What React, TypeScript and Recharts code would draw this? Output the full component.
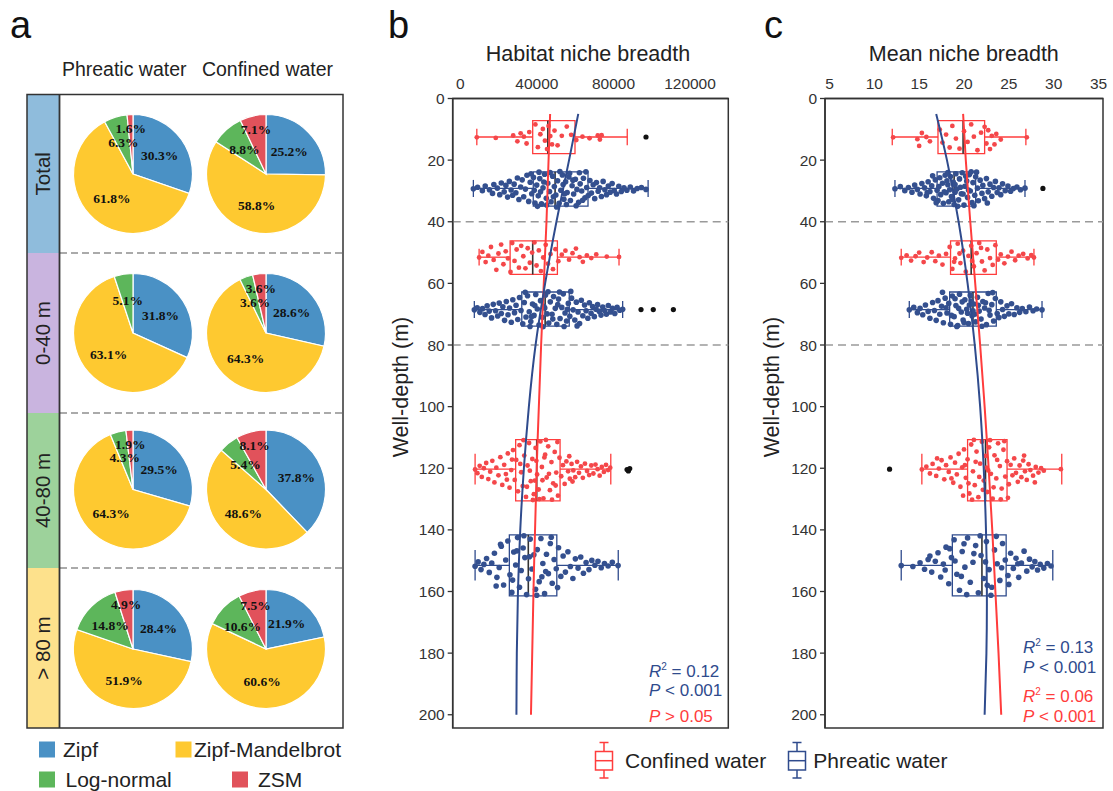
import React from 'react';
import {
  PieChart, Pie, Cell, ScatterChart, Scatter, XAxis, YAxis,
  ReferenceArea, ReferenceLine,
} from 'recharts';

const SANS = 'Arial, "Liberation Sans", Helvetica, sans-serif';
const SERIF = '"Times New Roman", "Liberation Serif", serif';

// ---------- panel a: abundance model shares (%) ----------
const models = ['Zipf', 'Zipf-Mandelbrot', 'Log-normal', 'ZSM'];
const modelColors = ['#4a91c5', '#fec930', '#5db65b', '#e1525b'];
const depthRows = ['Total', '0-40 m', '40-80 m', '> 80 m'];
const rowColors = ['#8fbcdc', '#c9b4df', '#9dd29b', '#fde18c'];
const waterTypes = ['Phreatic water', 'Confined water'];
const phreaticShares = [
  [30.3, 61.8, 6.3, 1.6],
  [31.8, 63.1, 5.1, 0],
  [29.5, 64.3, 4.3, 1.9],
  [28.4, 51.9, 14.8, 4.9],
];
const confinedShares = [
  [25.2, 58.8, 8.8, 7.1],
  [28.6, 64.3, 3.6, 3.6],
  [37.8, 48.6, 5.4, 8.1],
  [21.9, 60.6, 10.6, 7.5],
];

// ---------- panels b, c ----------
const RED = '#ff3c3c';
const BLUE = '#2f4b8d';
const RED_DOT = '#f4474a';
const BLUE_DOT = '#34508f';

const depthTicks = [0, 20, 40, 60, 80, 100, 120, 140, 160, 180, 200];
const depthMinorTicks = [10, 30, 50, 70, 90, 110, 130, 150, 170, 190];
const depthMax = 204.3;
const layerBreaks = [40, 80];

// box groups from top to bottom: depth extent of each box
const groupWater = ['Confined', 'Phreatic', 'Confined', 'Phreatic', 'Confined', 'Phreatic'];
const groupTop = [7.2, 23.8, 46.2, 62.8, 110.7, 141.6];
const groupCenter = [12.5, 29.2, 51.5, 68.5, 120.3, 151.5];
const groupBottom = [17.9, 34.9, 57.1, 73.9, 130.6, 161.4];

// habitat niche breadth: [whisker low, q1, median, q3, whisker high]
const habitatTicks = [0, 40000, 80000, 120000];
const habitatMinorTicks = [0, 20000, 40000, 60000, 80000, 100000, 120000];
const habitatBoxes = [
  [8600, 37800, 45700, 59900, 87200],
  [6800, 38100, 49500, 66700, 98100],
  [9800, 26000, 37800, 50700, 82900],
  [7300, 32100, 44300, 56900, 84800],
  [7700, 28900, 39900, 52100, 78600],
  [7700, 25600, 35500, 50400, 82500],
];
const habitatOutliers = [[97000, 12.5], [94400, 68.5], [100800, 68.5], [111300, 68.5], [87100, 120.4], [87800, 120.9], [88500, 120.1]];
const habitatPhreaticFit = [[61600, 5], [56800, 20], [50200, 40], [44300, 60], [39300, 80], [35800, 100], [33200, 120], [31300, 140], [30100, 160], [29500, 180], [29300, 200]];
const habitatConfinedFit = [[46900, 5], [45000, 40], [42200, 80], [39900, 120], [38200, 160], [36900, 200]];

const habitat1 = [[8600,12.6],[18500,12.8],[27600,12.0],[29800,13.9],[31500,11.3],[33200,12.4],[34600,14.6],[36000,10.9],[39200,8.4],[40500,15.8],[41800,11.6],[43100,9.9],[44200,13.7],[45300,16.4],[46100,8.9],[47000,12.2],[47900,14.9],[49200,10.4],[50800,15.2],[53000,12.1],[55600,9.1],[57900,11.8],[60600,13.5],[63800,12.4],[67500,12.9],[71800,12.0],[72900,13.3],[73800,11.9]];
const habitat2 = [[6800,29.3],[9000,28.8],[11500,29.9],[13000,28.4],[15200,29.6],[16800,30.8],[17500,27.9],[19300,29.1],[20600,31.2],[21400,27.4],[22900,30.3],[23800,28.2],[24700,32.0],[25600,26.9],[26500,29.7],[27300,31.4],[28100,27.8],[29000,30.6],[29800,25.8],[30600,32.8],[31500,28.7],[32300,26.4],[33100,31.9],[34000,29.4],[34800,24.9],[35700,33.4],[36500,27.2],[37300,30.9],[38200,25.6],[39000,33.9],[39900,28.1],[40700,31.6],[41500,26.0],[42400,34.2],[43200,29.0],[44000,24.6],[44900,32.4],[45700,27.5],[46600,30.2],[47400,33.5],[48200,25.2],[49100,28.6],[49900,31.3],[50800,26.7],[51600,34.0],[52500,29.8],[53300,24.8],[54100,32.7],[55000,27.0],[55800,30.5],[56700,25.5],[57500,33.1],[58400,28.3],[59200,31.0],[60100,26.2],[60900,29.5],[61800,33.7],[62600,27.7],[63400,30.0],[64300,25.9],[65100,32.2],[66000,28.9],[66800,31.5],[67700,26.6],[68500,30.7],[69400,28.0],[70200,32.5],[71100,27.3],[72000,30.1],[72800,29.0],[73700,31.8],[74600,26.9],[75500,29.6],[76400,31.2],[77300,28.4],[78300,30.4],[79300,27.6],[80400,29.9],[81600,31.0],[82800,28.5],[84100,30.2],[85500,29.0],[87000,29.8],[88800,28.7],[90500,30.0],[92400,29.2],[94600,28.9],[97000,29.5],[36900,24.4],[38600,29.8],[40300,35.0],[41100,23.9],[43600,27.1],[45100,34.6],[46900,24.0],[48600,31.9],[50300,35.2],[52000,23.7],[53700,27.9],[55400,34.4],[57100,24.3],[58800,26.5],[60500,34.8],[62200,24.1],[63900,33.0],[65600,23.8],[41900,30.3],[54500,30.9]];
const habitat3 = [[9800,51.6],[11500,49.8],[13200,53.1],[14600,51.0],[16000,48.2],[17400,52.4],[18800,55.6],[19900,50.3],[21300,47.4],[22500,53.8],[23700,49.6],[24900,51.9],[26200,56.3],[27100,46.9],[28300,52.7],[29400,49.0],[30600,54.9],[31800,47.8],[32900,51.2],[34000,55.1],[35200,48.6],[36300,53.3],[37500,50.0],[38700,46.7],[39800,54.2],[41000,49.3],[42100,56.0],[43300,51.6],[44600,47.5],[45800,53.6],[47100,50.5],[48400,55.4],[49700,48.9],[51200,52.8],[53000,50.7],[54900,49.4],[56800,52.3],[58600,50.2],[60400,48.7],[62300,51.5],[64000,53.0],[66100,50.9],[68400,51.8],[71000,50.6],[76500,51.3],[82900,51.4]];
const habitat4 = [[7300,68.6],[8800,67.9],[10200,69.4],[11600,68.2],[12900,70.1],[14000,67.3],[15100,69.0],[16300,71.2],[17200,66.8],[18400,68.9],[19500,70.6],[20300,66.4],[21400,69.8],[22200,67.6],[23100,72.0],[24000,65.9],[24900,70.2],[25700,68.0],[26600,72.6],[27400,65.3],[28300,69.5],[29100,67.1],[30000,71.7],[30900,64.6],[31700,68.8],[32600,73.1],[33400,66.2],[34300,70.9],[35100,64.0],[36000,69.2],[36800,72.4],[37700,66.7],[38500,70.4],[39400,63.6],[40200,68.3],[41100,73.5],[41900,65.6],[42800,71.0],[43600,67.4],[44500,63.8],[45300,69.9],[46200,72.9],[47000,66.0],[47900,70.0],[48700,64.3],[49600,68.1],[50400,73.3],[51300,65.1],[52100,71.4],[53000,67.8],[53800,63.4],[54700,69.6],[55500,72.2],[56400,66.5],[57200,70.7],[58100,64.8],[58900,68.6],[59800,71.9],[60600,66.1],[61500,69.3],[62300,73.0],[63200,65.5],[64000,70.5],[64900,67.0],[65700,68.9],[66600,71.3],[67400,66.3],[68300,69.7],[69100,67.5],[70000,70.8],[70900,68.4],[71700,66.9],[72600,69.1],[73500,70.3],[74400,67.7],[75400,68.8],[76300,70.0],[77300,67.2],[78400,69.3],[79500,68.1],[80700,69.8],[81900,67.8],[83300,68.7],[84800,68.4],[33900,62.9],[36400,74.0],[38900,67.2],[43200,74.1],[45800,62.7],[48300,71.6],[51800,62.8],[54200,74.0],[57700,62.6],[61000,73.8],[37200,70.8],[50900,66.9],[44100,68.0],[55900,68.4]];
const habitat5 = [[7700,120.4],[8900,121.6],[10100,119.2],[11200,122.8],[12300,120.0],[13500,118.3],[14600,123.5],[15600,121.1],[16700,117.6],[17800,124.6],[18800,119.8],[19900,122.3],[20900,116.4],[21900,125.4],[22900,118.9],[23800,121.9],[24800,115.2],[25700,126.3],[26600,120.6],[27500,114.1],[28400,123.8],[29200,117.3],[30100,127.5],[30900,112.5],[31800,121.3],[32600,125.8],[33400,115.9],[34300,129.3],[35100,119.1],[35900,111.8],[36800,124.2],[37600,117.0],[38400,128.4],[39300,113.4],[40100,122.0],[40900,126.9],[41800,111.3],[42600,119.6],[43400,129.8],[44300,115.6],[45100,123.0],[45900,112.9],[46800,127.1],[47600,118.0],[48500,124.9],[49300,114.7],[50100,121.4],[51000,128.9],[51800,116.6],[52700,122.6],[53600,119.0],[54500,125.1],[55400,117.8],[56300,121.0],[57200,123.4],[58100,118.6],[59000,120.7],[60000,122.9],[61000,117.9],[62000,121.5],[63000,119.4],[64000,123.1],[65100,118.5],[66200,120.9],[67300,122.2],[68400,119.1],[69500,121.7],[70600,118.8],[71700,120.3],[72800,122.4],[73900,119.6],[75000,121.2],[76100,118.9],[77200,120.6],[78300,119.8],[31300,118.6],[33000,110.9],[34800,126.0],[36300,120.8],[37900,130.3],[39700,117.6],[41300,130.0],[42900,123.9],[44700,110.8],[46300,121.8],[47900,130.2],[49800,125.6],[50700,111.5],[43900,116.5],[38900,124.0],[27000,117.2],[24300,123.7],[56900,116.1],[58600,124.3]];
const habitat6 = [[7700,151.8],[9300,150.4],[10800,152.9],[12300,151.2],[13700,149.3],[15100,153.8],[16400,150.8],[17800,147.6],[19100,155.4],[20300,152.2],[21400,145.3],[22600,157.9],[23700,149.8],[24800,143.6],[25900,154.6],[26900,160.3],[27900,147.2],[28900,151.4],[29900,142.5],[30900,158.6],[31800,153.2],[32800,145.9],[33700,149.0],[34600,161.0],[35600,155.9],[36500,143.0],[37400,152.7],[38400,148.1],[39300,159.3],[40200,146.4],[41200,156.8],[42100,142.8],[43100,150.9],[44000,160.7],[45000,147.9],[46000,154.2],[47000,144.4],[48000,157.3],[49000,149.6],[50100,152.6],[51300,145.8],[52500,155.1],[53700,148.5],[54900,153.7],[56200,147.1],[57500,151.9],[58800,155.8],[60100,149.4],[61500,152.4],[62900,148.8],[64300,154.1],[65700,150.6],[67200,152.9],[68700,149.9],[70300,151.5],[71900,150.2],[73600,152.3],[75300,150.9],[77200,151.7],[79400,150.5],[82400,151.6],[18700,158.2],[21000,144.7],[27300,156.3],[33200,141.9],[36100,148.7],[39900,161.2],[44600,153.5],[47500,142.4],[50800,158.7],[29500,146.8],[42600,155.2]];

// mean niche breadth: [whisker low, q1, median, q3, whisker high]
const meanTicks = [5, 10, 15, 20, 25, 30, 35];
const meanMinorTicks = [5, 7.5, 10, 12.5, 15, 17.5, 20, 22.5, 25, 27.5, 30, 32.5, 35];
const meanBoxes = [
  [12.0, 17.1, 19.9, 22.3, 26.9],
  [12.3, 17.0, 18.9, 21.3, 26.8],
  [13.0, 18.5, 20.8, 23.6, 27.8],
  [13.9, 18.4, 21.0, 23.6, 28.7],
  [15.3, 20.4, 22.4, 24.8, 30.9],
  [13.0, 18.7, 22.0, 24.7, 29.9],
];
const meanOutliers = [[28.8, 29.2], [11.7, 120.3]];
const meanPhreaticFit = [[16.9, 5], [18.1, 20], [19.4, 40], [20.4, 60], [21.2, 80], [21.8, 100], [22.2, 120], [22.45, 140], [22.55, 160], [22.5, 180], [22.3, 200]];
const meanConfinedFit = [[19.9, 5], [20.2, 20], [20.7, 40], [21.25, 60], [21.8, 80], [22.3, 100], [22.75, 120], [23.15, 140], [23.5, 160], [23.85, 180], [24.15, 200]];

const mean1 = [[12.1,12.6],[14.8,13.2],[15.0,15.4],[15.3,11.2],[15.8,12.5],[16.2,13.9],[17.3,10.1],[17.6,14.3],[18.0,11.7],[18.4,15.9],[18.7,8.9],[19.1,13.0],[19.5,16.3],[20.0,10.6],[20.4,14.1],[20.8,8.4],[21.1,12.4],[21.5,16.8],[21.9,11.1],[22.3,9.2],[22.5,14.6],[22.7,10.3],[22.9,16.4],[23.1,12.1],[23.4,14.9],[23.6,11.5],[24.1,13.3],[27.0,12.6]];
const mean2 = [[12.3,29.3],[12.9,28.6],[13.4,29.9],[13.8,28.9],[14.2,30.4],[14.5,28.1],[14.8,29.5],[15.1,31.0],[15.3,27.6],[15.6,29.0],[15.8,31.6],[16.0,27.0],[16.2,30.2],[16.4,28.3],[16.6,32.4],[16.8,26.4],[17.0,29.8],[17.1,33.1],[17.3,25.7],[17.4,31.2],[17.6,27.5],[17.7,34.0],[17.9,24.9],[18.0,30.6],[18.2,28.0],[18.3,33.5],[18.5,25.3],[18.6,31.8],[18.8,27.1],[18.9,34.4],[19.1,24.4],[19.2,29.4],[19.4,32.9],[19.5,26.1],[19.7,30.9],[19.8,24.1],[20.0,34.6],[20.1,28.5],[20.3,26.8],[20.4,32.1],[20.6,24.7],[20.7,30.0],[20.9,33.8],[21.0,27.3],[21.2,31.4],[21.3,25.4],[21.5,29.1],[21.6,33.2],[21.8,26.5],[22.0,30.8],[22.1,28.2],[22.3,32.5],[22.5,26.0],[22.7,30.3],[22.9,27.8],[23.1,31.7],[23.3,28.9],[23.5,26.9],[23.7,30.5],[23.9,29.0],[24.1,31.2],[24.3,27.7],[24.6,29.9],[24.9,28.4],[25.2,30.1],[25.5,29.2],[25.9,28.7],[26.3,29.6],[26.8,29.1],[17.2,28.6],[17.8,30.3],[18.1,26.7],[18.4,29.6],[18.7,32.7],[19.0,27.9],[19.3,35.0],[19.6,28.8],[19.9,31.0],[20.2,25.2],[20.5,29.7],[20.8,23.8],[16.9,33.8],[16.5,25.1],[21.1,34.8],[21.4,23.9],[19.0,30.4],[18.2,24.0],[15.9,30.5],[22.6,33.9]];
const mean3 = [[13.0,51.7],[13.6,50.9],[14.1,52.6],[14.6,51.2],[15.0,50.0],[15.5,53.1],[15.9,51.6],[16.4,49.9],[16.8,52.8],[17.2,51.0],[17.6,53.9],[18.0,50.4],[18.4,48.2],[18.7,55.3],[19.0,51.9],[19.3,47.1],[19.6,53.4],[19.9,49.4],[20.2,56.2],[20.5,51.1],[20.8,47.8],[21.1,54.5],[21.4,50.2],[21.7,46.9],[22.0,52.9],[22.3,55.8],[22.6,49.0],[22.9,51.8],[23.2,54.0],[23.5,47.6],[23.8,52.3],[24.1,50.6],[24.5,53.5],[24.9,51.3],[25.3,49.7],[25.7,52.5],[26.1,51.0],[26.6,50.4],[27.1,51.9],[27.5,50.8],[27.8,51.6],[19.5,50.3],[20.9,52.7],[21.9,48.5],[18.9,53.0]];
const mean4 = [[13.9,68.6],[14.4,67.8],[14.8,69.5],[15.1,68.1],[15.4,70.2],[15.7,67.0],[16.0,69.1],[16.2,71.3],[16.5,66.2],[16.7,68.8],[16.9,72.0],[17.1,65.6],[17.3,70.0],[17.5,67.4],[17.7,72.8],[17.9,64.8],[18.1,69.6],[18.3,66.5],[18.5,73.3],[18.7,64.1],[18.9,70.8],[19.1,67.2],[19.3,73.7],[19.5,63.5],[19.7,69.3],[19.9,71.9],[20.1,65.3],[20.3,68.4],[20.5,73.0],[20.7,63.9],[20.9,70.5],[21.1,66.7],[21.3,72.5],[21.5,64.5],[21.7,69.0],[21.9,71.6],[22.1,65.9],[22.3,68.0],[22.5,73.4],[22.7,63.3],[22.9,70.3],[23.1,66.9],[23.3,72.2],[23.5,64.9],[23.7,69.8],[23.9,71.1],[24.1,66.0],[24.3,68.5],[24.5,70.7],[24.8,67.3],[25.0,69.9],[25.3,66.6],[25.6,70.1],[25.9,67.9],[26.2,69.4],[26.5,68.2],[26.9,69.2],[27.3,67.7],[27.7,68.9],[28.1,68.3],[28.7,68.6],[18.0,67.9],[18.6,70.4],[19.0,65.0],[19.4,68.1],[19.8,66.0],[20.0,72.7],[20.4,69.7],[20.8,65.7],[21.2,70.0],[21.6,67.1],[22.0,73.9],[22.4,66.3],[22.8,68.7],[23.2,63.0],[19.2,74.0],[17.6,62.9],[21.0,68.9],[20.6,67.0]];
const mean5 = [[15.3,120.4],[15.8,119.5],[16.2,121.7],[16.5,118.6],[16.9,122.5],[17.2,120.1],[17.5,117.4],[17.8,123.6],[18.0,119.0],[18.3,121.2],[18.5,116.5],[18.8,124.7],[19.0,118.2],[19.2,122.0],[19.4,115.3],[19.6,126.0],[19.8,119.7],[20.0,113.9],[20.2,123.1],[20.4,117.1],[20.6,128.2],[20.8,112.3],[21.0,121.0],[21.2,125.5],[21.4,114.6],[21.6,129.4],[21.8,118.5],[22.0,111.4],[22.2,124.0],[22.4,116.0],[22.6,127.7],[22.8,113.2],[23.0,121.8],[23.2,129.9],[23.4,115.8],[23.6,123.3],[23.8,111.9],[24.0,119.3],[24.2,126.6],[24.4,114.0],[24.6,122.7],[24.8,117.7],[25.0,125.2],[25.2,118.9],[25.4,122.3],[25.6,116.8],[25.8,121.5],[26.0,124.4],[26.2,119.1],[26.4,122.9],[26.6,117.5],[26.8,121.0],[27.0,123.8],[27.2,118.7],[27.4,120.6],[27.7,122.4],[28.0,119.6],[28.3,121.4],[28.6,120.0],[28.9,120.8],[30.8,120.3],[20.1,119.0],[20.5,124.9],[20.9,130.2],[21.3,117.9],[21.7,122.8],[22.1,127.0],[22.5,119.8],[22.9,110.9],[23.3,126.2],[23.7,117.3],[24.1,130.1],[24.5,111.2],[21.1,110.8],[22.7,120.7],[19.9,128.9],[24.9,129.6],[17.0,116.8],[18.6,123.3],[26.7,115.9],[27.9,124.6]];
const mean6 = [[13.0,151.6],[14.3,151.9],[15.1,150.7],[15.6,152.8],[16.0,149.6],[16.4,153.7],[16.8,150.2],[17.1,147.4],[17.4,155.3],[17.7,151.1],[18.0,145.6],[18.3,157.5],[18.6,149.0],[18.9,143.2],[19.2,154.4],[19.5,159.6],[19.8,147.0],[20.1,152.1],[20.4,142.6],[20.7,157.0],[21.0,150.5],[21.3,145.1],[21.6,160.4],[21.9,148.3],[22.2,155.8],[22.5,143.8],[22.8,152.9],[23.1,158.6],[23.4,146.5],[23.7,151.0],[24.0,156.4],[24.3,144.4],[24.6,149.8],[24.9,154.8],[25.2,147.6],[25.5,152.5],[25.8,149.2],[26.1,155.4],[26.4,150.8],[26.7,146.9],[27.0,153.4],[27.3,149.5],[27.6,152.0],[27.9,150.3],[28.2,153.0],[28.5,151.2],[28.9,152.4],[29.3,150.9],[29.7,151.7],[19.0,150.1],[19.7,155.1],[20.3,161.0],[21.1,147.7],[21.8,141.9],[22.4,150.4],[23.0,161.2],[23.6,142.1],[24.2,152.3],[18.4,146.1],[20.0,144.5],[22.6,158.0],[25.0,157.7],[17.9,153.0],[16.2,148.5],[26.0,151.0]];

const habitatPoints = [habitat1, habitat2, habitat3, habitat4, habitat5, habitat6];
const meanPoints = [mean1, mean2, mean3, mean4, mean5, mean6];

const toXY = (rows: number[][]) => rows.map(([x, y]) => ({ x, y }));

const dot = (fill: string, r: number) => (p: any) =>
  <circle cx={p.cx} cy={p.cy} r={r} fill={fill} />;
const noDot = () => <g />;

interface PanelProps {
  left: number; top: number; width: number; height: number;
  yAxisWidth: number; xAxisHeight: number; marginRight: number; marginBottom: number;
  domain: [number, number];
  ticks: number[]; minorTicks: number[];
  boxes: number[][]; points: number[][][]; outliers: number[][];
  phreaticFit: number[][]; confinedFit: number[][];
}

const NichePanel: React.FC<PanelProps> = (p) => {
  const ax = { xAxisId: 'main', yAxisId: 'main' };
  return (
    <div style={{ position: 'absolute', left: p.left, top: p.top }}>
      <ScatterChart width={p.width} height={p.height}
        margin={{ top: 0, right: p.marginRight, bottom: p.marginBottom, left: 0 }}>
        <XAxis xAxisId="main" type="number" dataKey="x" orientation="top"
          domain={p.domain} allowDataOverflow ticks={p.ticks} interval={0}
          height={p.xAxisHeight} tickLine={false} tickSize={6} tickMargin={4}
          axisLine={{ stroke: '#333', strokeWidth: 1.5 }}
          tick={{ fontSize: 15.5, fill: '#333' }} />
        <XAxis xAxisId="minor" type="number" dataKey="x" orientation="top" mirror
          domain={p.domain} allowDataOverflow ticks={p.minorTicks} interval={0}
          tick={false} tickSize={5} axisLine={false}
          tickLine={{ stroke: '#333', strokeWidth: 1.3 }} />
        <YAxis yAxisId="main" type="number" dataKey="y" reversed
          domain={[0, depthMax]} allowDataOverflow ticks={depthTicks} interval={0}
          width={p.yAxisWidth} tickSize={5} tickMargin={3}
          axisLine={{ stroke: '#333', strokeWidth: 1.5 }}
          tickLine={{ stroke: '#333', strokeWidth: 1.3 }}
          tick={{ fontSize: 15.5, fill: '#333' }} />
        <YAxis yAxisId="minor" type="number" dataKey="y" reversed mirror
          domain={[0, depthMax]} allowDataOverflow ticks={depthMinorTicks} interval={0}
          tick={false} tickSize={4} axisLine={false}
          tickLine={{ stroke: '#333', strokeWidth: 1.3 }} />

        <ReferenceArea {...ax} x1={p.domain[0]} x2={p.domain[1]} y1={0} y2={depthMax}
          fill="none" stroke="#333" strokeWidth={1.5} />
        {layerBreaks.map((d) => (
          <ReferenceLine key={`br${d}`} {...ax} y={d} stroke="#9a9a9a" strokeWidth={1.5} strokeDasharray="8 5" />
        ))}

        {p.boxes.map((b, i) => {
          const color = groupWater[i] === 'Confined' ? RED : BLUE;
          const c = groupCenter[i];
          const cap = (groupBottom[i] - groupTop[i]) / 4;
          const [lo, q1, med, q3, hi] = b;
          return (
            <React.Fragment key={`box${i}`}>
              <ReferenceArea {...ax} x1={q1} x2={q3} y1={groupTop[i]} y2={groupBottom[i]}
                fill="none" stroke={color} strokeWidth={1.3} />
              <ReferenceLine {...ax} segment={[{ x: lo, y: c }, { x: q1, y: c }]} stroke={color} strokeWidth={1.3} />
              <ReferenceLine {...ax} segment={[{ x: q3, y: c }, { x: hi, y: c }]} stroke={color} strokeWidth={1.3} />
              <ReferenceLine {...ax} segment={[{ x: lo, y: c - cap }, { x: lo, y: c + cap }]} stroke={color} strokeWidth={1.3} />
              <ReferenceLine {...ax} segment={[{ x: hi, y: c - cap }, { x: hi, y: c + cap }]} stroke={color} strokeWidth={1.3} />
              <ReferenceLine {...ax} segment={[{ x: med, y: groupTop[i] }, { x: med, y: groupBottom[i] }]} stroke="#333" strokeWidth={1.6} />
            </React.Fragment>
          );
        })}

        {p.points.map((pts, i) => (
          <Scatter key={`pts${i}`} {...ax} data={toXY(pts)} isAnimationActive={false}
            shape={groupWater[i] === 'Confined' ? dot(RED_DOT, 2.4) : dot(BLUE_DOT, 2.8)} />
        ))}
        <Scatter {...ax} data={toXY(p.outliers)} isAnimationActive={false} shape={dot('#111', 2.6)} />
        <Scatter {...ax} data={toXY(p.confinedFit)} isAnimationActive={false} shape={noDot}
          line={{ stroke: RED, strokeWidth: 2 }} lineJointType="natural" />
        <Scatter {...ax} data={toXY(p.phreaticFit)} isAnimationActive={false} shape={noDot}
          line={{ stroke: BLUE, strokeWidth: 2 }} lineJointType="natural" />
      </ScatterChart>
    </div>
  );
};

// pie placement inside the frame of panel a
const pieCenterX = [73, 206];
const pieCenterY = [79, 238, 394.5, 554];
const pieRadius = 59.5;
const rowBounds = [94.5, 253, 413, 568, 728];

const shareLabel = (props: any) => {
  const { cx, cy, midAngle, outerRadius, value, index } = props;
  if (!value) return null;
  const k = index === 3 ? 0.76 : 0.55;
  const rad = (-midAngle * Math.PI) / 180;
  return (
    <text x={cx + outerRadius * k * Math.cos(rad)} y={cy + outerRadius * k * Math.sin(rad)}
      textAnchor="middle" dominantBaseline="central" fontFamily={SERIF}
      fontWeight="bold" fontSize={13.5} fill="#111">
      {value.toFixed(1)}%
    </text>
  );
};

const R2 = ({ x, y, color, text }: { x: number; y: number; color: string; text: string }) => (
  <text x={x} y={y} fill={color} fontSize={17}>
    <tspan fontStyle="italic">R</tspan>
    <tspan dy={-7} fontSize={10}>2</tspan>
    <tspan dy={7}>{text}</tspan>
  </text>
);
const Pval = ({ x, y, color, text }: { x: number; y: number; color: string; text: string }) => (
  <text x={x} y={y} fill={color} fontSize={17}>
    <tspan fontStyle="italic">P</tspan>
    <tspan>{text}</tspan>
  </text>
);

const BoxIcon = ({ x, color }: { x: number; color: string }) => (
  <g stroke={color} strokeWidth={1.5} fill="none">
    <line x1={x - 4.5} x2={x + 4.5} y1={742.5} y2={742.5} />
    <line x1={x} x2={x} y1={742.5} y2={751.5} />
    <rect x={x - 8.5} y={751.5} width={17} height={18.5} />
    <line x1={x - 8.5} x2={x + 8.5} y1={760.7} y2={760.7} />
    <line x1={x} x2={x} y1={770} y2={778} />
    <line x1={x - 4.5} x2={x + 4.5} y1={778} y2={778} />
  </g>
);

export default function App() {
  const shares = [phreaticShares, confinedShares];
  return (
    <div style={{ position: 'absolute', left: 0, top: 0, width: 1113, height: 791, background: '#fff', fontFamily: SANS, overflow: 'hidden' }}>
      <svg width={1113} height={791} style={{ position: 'absolute', left: 0, top: 0 }} fontFamily={SANS}>
        {/* panel letters */}
        <text x={10} y={37.5} fontSize={38} fill="#111">a</text>
        <text x={388} y={37.5} fontSize={38} fill="#111">b</text>
        <text x={764} y={37.5} fontSize={38} fill="#111">c</text>

        {/* panel a frame */}
        {waterTypes.map((w, j) => (
          <text key={w} x={[124.2, 267.5][j]} y={76} textAnchor="middle" fontSize={19.5} fill="#222">{w}</text>
        ))}
        {depthRows.map((r, i) => (
          <g key={r}>
            <rect x={27} y={rowBounds[i]} width={32} height={rowBounds[i + 1] - rowBounds[i]} fill={rowColors[i]} />
            <text transform={`translate(50,${(rowBounds[i] + rowBounds[i + 1]) / 2}) rotate(-90)`}
              textAnchor="middle" fontSize={20.5} fill="#222">{r}</text>
          </g>
        ))}
        {rowBounds.slice(1, 4).map((y) => (
          <line key={y} x1={60} x2={342.5} y1={y} y2={y} stroke="#aaa" strokeWidth={2} strokeDasharray="7 4" />
        ))}
        <rect x={27} y={94.5} width={316} height={633.5} fill="none" stroke="#333" strokeWidth={1.5} />
        <line x1={59.5} x2={59.5} y1={94.5} y2={728} stroke="#333" strokeWidth={1.8} />

        {/* panel a legend */}
        {models.map((m, i) => {
          const sx = [39, 175.5, 39, 232][i];
          const sy = [741.5, 741.5, 771.5, 771.5][i];
          return (
            <g key={m}>
              <rect x={sx} y={sy} width={16} height={16} fill={modelColors[i]} />
              <text x={[63, 194, 65.5, 258][i]} y={sy + 15.2} fontSize={21} fill="#222">{m}</text>
            </g>
          );
        })}

        {/* panels b, c axis titles */}
        <text x={588} y={60.7} textAnchor="middle" fontSize={21.5} fill="#222">Habitat niche breadth</text>
        <text x={963.8} y={60.7} textAnchor="middle" fontSize={21.5} fill="#222">Mean niche breadth</text>
        <text transform="translate(407.5,387) rotate(-90)" textAnchor="middle" fontSize={21.5} fill="#222">Well-depth (m)</text>
        <text transform="translate(779,387) rotate(-90)" textAnchor="middle" fontSize={21.5} fill="#222">Well-depth (m)</text>

        {/* statistics */}
        <R2 x={649} y={676.5} color={BLUE} text=" = 0.12" />
        <Pval x={649} y={696} color={BLUE} text=" < 0.001" />
        <Pval x={649} y={721.5} color={RED} text=" > 0.05" />
        <R2 x={1023} y={653.3} color={BLUE} text=" = 0.13" />
        <Pval x={1023} y={673.3} color={BLUE} text=" < 0.001" />
        <R2 x={1023} y={701.7} color={RED} text=" = 0.06" />
        <Pval x={1023} y={721.7} color={RED} text=" < 0.001" />

        {/* panels b, c legend */}
        <BoxIcon x={604} color={RED} />
        <text x={625} y={768.3} fontSize={21} fill="#222">Confined water</text>
        <BoxIcon x={797} color={BLUE} />
        <text x={813.3} y={768.3} fontSize={21} fill="#222">Phreatic water</text>
      </svg>

      <div style={{ position: 'absolute', left: 60, top: 94.5 }}>
        <PieChart width={283} height={634} margin={{ top: 0, right: 0, bottom: 0, left: 0 }}>
          {depthRows.map((r, i) => waterTypes.map((w, j) => (
            <Pie key={`${r}-${w}`} data={models.map((m, k) => ({ name: m, value: shares[j][i][k] }))}
              dataKey="value" nameKey="name" cx={pieCenterX[j]} cy={pieCenterY[i]}
              outerRadius={pieRadius} startAngle={90} endAngle={-270}
              stroke="#fff" strokeWidth={1.2} label={shareLabel} labelLine={false}
              isAnimationActive={false}>
              {models.map((m, k) => <Cell key={m} fill={modelColors[k]} />)}
            </Pie>
          )))}
        </PieChart>
      </div>

      <NichePanel left={380} top={40} width={360} height={700}
        yAxisWidth={72.7} xAxisHeight={58.5} marginRight={11.7} marginBottom={12}
        domain={[-4000, 140000]} ticks={habitatTicks} minorTicks={habitatMinorTicks}
        boxes={habitatBoxes} points={habitatPoints} outliers={habitatOutliers}
        phreaticFit={habitatPhreaticFit} confinedFit={habitatConfinedFit} />
      <NichePanel left={752} top={40} width={358} height={700}
        yAxisWidth={73} xAxisHeight={58.5} marginRight={7} marginBottom={12}
        domain={[4.5, 35.5]} ticks={meanTicks} minorTicks={meanMinorTicks}
        boxes={meanBoxes} points={meanPoints} outliers={meanOutliers}
        phreaticFit={meanPhreaticFit} confinedFit={meanConfinedFit} />
    </div>
  );
}
